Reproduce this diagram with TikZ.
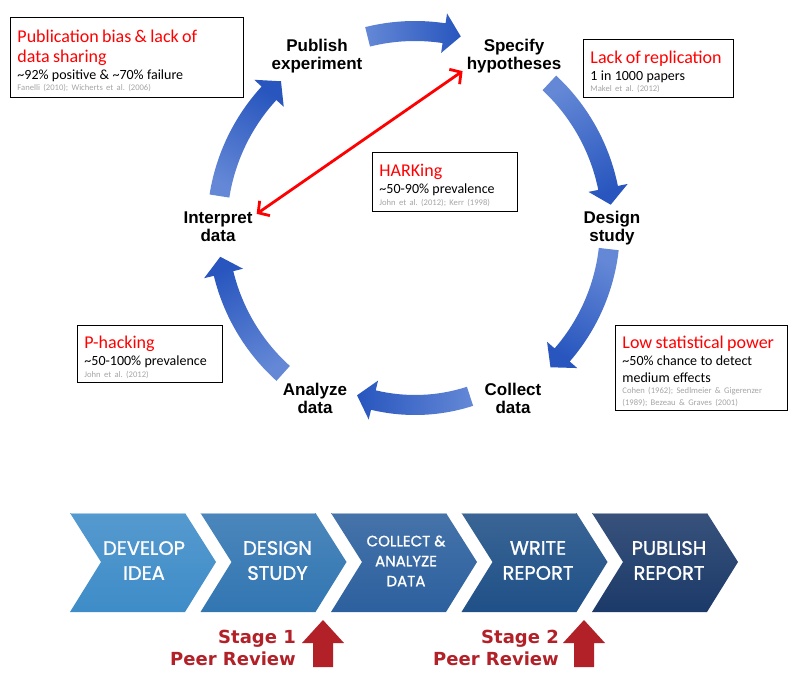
\documentclass[tikz,border=0pt]{standalone}
\usepackage{fontspec}
\setmainfont{Carlito}
\newfontfamily\cycfont{Liberation Sans}
\newfontfamily\chevfont{Poppins}[FakeBold=1.2]
\newfontfamily\stagefont{DejaVu Sans}
\usetikzlibrary{arrows.meta}
\definecolor{arrlight}{RGB}{100,136,214}
\definecolor{arrdark}{RGB}{40,86,190}
\definecolor{citegray}{RGB}{166,166,166}
\definecolor{stagered}{RGB}{178,32,40}
\definecolor{chA}{RGB}{62,140,200}
\definecolor{chB}{RGB}{50,118,178}
\definecolor{chC}{RGB}{44,96,158}
\definecolor{chD}{RGB}{31,80,135}
\definecolor{chE}{RGB}{28,58,105}
\newcommand{\issuetitle}[1]{{\fontsize{18}{20}\selectfont\color{red}\rule{0pt}{19pt}#1\par}}
\newcommand{\issuemain}[1]{{\fontsize{14}{17}\selectfont #1\par}}
\newcommand{\issuecite}[1]{{\fontsize{8.6}{11.5}\selectfont\frenchspacing\color{citegray}#1\par}}
% curved block arrow: center x, center y, radius, tail angle, tip angle (clockwise)
\newcommand{\cycarrow}[5]{%
  \begin{scope}[shift={(#1,#2)}]
    \pgfmathsetmacro\cyAb{#5+17/#3*180/pi}
    \pgfmathsetmacro\cyPhi{(#4+#5)/2}
    \pgfmathsetmacro\cyRo{#3+10}
    \pgfmathsetmacro\cyRi{#3-10}
    \pgfmathsetmacro\cyHo{#3+20}
    \pgfmathsetmacro\cyHi{#3-20}
    \shade[top color=arrlight, bottom color=arrdark, shading angle=\cyPhi]
      (#4:\cyRo) arc[start angle=#4, end angle=\cyAb, radius=\cyRo]
      -- (\cyAb:\cyHo) -- (#5:#3) -- (\cyAb:\cyHi) -- (\cyAb:\cyRi)
      arc[start angle=\cyAb, end angle=#4, radius=\cyRi] -- cycle;
  \end{scope}}
\newcommand{\chevshape}[2]{%
  \shade[top color=#2!88!white, bottom color=#2]
    (#1,-513) -- ++(115,0) -- ++(31,-49) -- ++(-31,-50) -- ++(-115,0) -- ++(31,50) -- cycle;
  \draw[#2!45!white, line width=1.2pt] (#1+0.6,-513.6) -- ++(114,0);}
\tikzset{
  cyc/.style={font=\cycfont\bfseries\fontsize{17}{18}\selectfont, align=center, inner sep=0pt},
  issue/.style={draw=black, line width=0.9pt, anchor=north west, align=left,
    inner xsep=7pt, inner ysep=1pt, fill=white},
  chevtext/.style={font=\chevfont\fontsize{19.5}{25}\selectfont, text=white, align=center, inner sep=0pt},
  chevsmall/.style={font=\chevfont\fontsize{15}{20}\selectfont, text=white, align=center, inner sep=0pt},
  stagetext/.style={font=\stagefont\bfseries\fontsize{18}{22}\selectfont, text=stagered,
    align=right, anchor=east, inner sep=0pt},
  harkarrow/.style={red, line width=2.8pt,
    {Straight Barb[length=8pt,width=18pt]}-{Straight Barb[length=8pt,width=18pt]}},
}
\begin{document}
\begin{tikzpicture}[x=1pt,y=1pt]
\useasboundingbox (0,0) rectangle (797,-676);
\fill[white] (0,0) rectangle (797,-676);

% cycle arrows
\cycarrow{415}{-227}{196}{104}{76.5}
\cycarrow{415}{-227}{197}{47}{6.5}
\cycarrow{415}{-227}{195}{-6.5}{-46}
\cycarrow{415}{-227}{178}{-72}{-109}
\cycarrow{415}{-227}{197}{-132}{-171.3}
\cycarrow{415}{-227}{198}{171}{132.6}

% cycle labels
\node[cyc] (publish) at (317,-56) {Publish\\experiment};
\node[cyc] (spec) at (514,-56) {Specify\\hypotheses};
\node[cyc] (design) at (612,-228) {Design\\study};
\node[cyc] (collect) at (513,-398) {Collect\\data};
\node[cyc] (analyze) at (315,-398) {Analyze\\data};
\node[cyc] (interp) at (218,-227) {Interpret\\data};

% HARKing arrow
\draw[harkarrow] ([xshift=-4pt,yshift=2pt]spec.south west) -- ([xshift=4pt,yshift=-2pt]interp.north east);

% issue boxes
\node[issue, minimum width=233pt, minimum height=80pt, text width=219pt] (pubbias) at (10,-17)
  {\issuetitle{Publication bias \& lack of\\data sharing}\issuemain{\textasciitilde 92\% positive \& \textasciitilde 70\% failure}\issuecite{Fanelli (2010); Wicherts et al. (2006)}};
\node[issue, minimum width=150pt, minimum height=58pt, text width=136pt] (replic) at (583,-39)
  {\issuetitle{Lack of replication}\issuemain{1 in 1000 papers}\issuecite{Makel et al. (2012)}};
\node[issue, minimum width=145pt, minimum height=59pt, text width=131pt] (harking) at (372,-152)
  {\issuetitle{HARKing}\issuemain{\textasciitilde 50-90\% prevalence}\issuecite{John et al. (2012); Kerr (1998)}};
\node[issue, minimum width=145pt, minimum height=57pt, text width=131pt] (phack) at (77,-325)
  {\issuetitle{P-hacking}\issuemain{\textasciitilde 50-100\% prevalence}\issuecite{John et al. (2012)}};
\node[issue, minimum width=172pt, minimum height=85pt, text width=158pt] (power) at (615,-325)
  {\issuetitle{Low statistical power}\issuemain{\textasciitilde 50\% chance to detect\\medium effects}\issuecite{Cohen (1962); Sedlmeier \& Gigerenzer\\(1989); Bezeau \& Graves (2001)}};

% chevrons
\chevshape{70}{chA}
\chevshape{200.5}{chB}
\chevshape{331}{chC}
\chevshape{461.5}{chD}
\chevshape{592}{chE}
\node[chevtext] (c1) at (144,-560.5) {DEVELOP\\IDEA};
\node[chevtext] (c2) at (277.5,-560.5) {DESIGN\\STUDY};
\node[chevsmall] (c3) at (406,-561) {COLLECT \&\\ANALYZE\\DATA};
\node[chevtext] (c4) at (538,-560.5) {WRITE\\REPORT};
\node[chevtext] (c5) at (669,-560.5) {PUBLISH\\REPORT};

% stages
\node[stagetext] (s1) at (296,-648) {Stage 1\\Peer Review};
\node[stagetext] (s2) at (559,-648) {Stage 2\\Peer Review};
\fill[stagered] (313,-667) -- (313,-643) -- (302,-643) -- (323,-620) -- (344,-643) -- (333,-643) -- (333,-667) -- cycle;
\fill[stagered] (574,-667) -- (574,-643) -- (563,-643) -- (584,-620) -- (605,-643) -- (594,-643) -- (594,-667) -- cycle;
\end{tikzpicture}
\end{document}
